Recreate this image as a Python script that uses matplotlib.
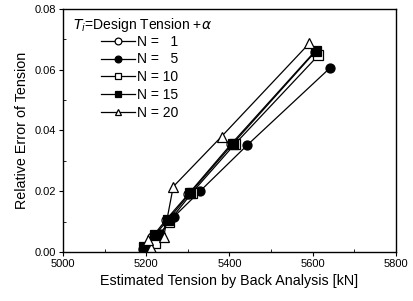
import matplotlib
matplotlib.use("Agg")
import matplotlib.pyplot as plt
from matplotlib.ticker import MultipleLocator

plt.rcParams['font.family'] = ['Liberation Sans', 'DejaVu Sans']

labels = ["N =   1", "N =   5", "N = 10", "N = 15", "N = 20"]
x_n1 = [5192, 5215, 5247, 5301, 5404, 5605]
y_n1 = [0.001, 0.005, 0.0105, 0.019, 0.0355, 0.066]
x_n5 = [5197, 5232, 5266, 5330, 5443, 5641]
y_n5 = [0.0015, 0.006, 0.0115, 0.0201, 0.0352, 0.0605]
x_n10 = [5200, 5222, 5255, 5310, 5413, 5614]
y_n10 = [0.001, 0.003, 0.010, 0.0195, 0.0355, 0.0648]
x_n15 = [5195, 5220, 5252, 5305, 5408, 5608]
y_n15 = [0.0015, 0.0055, 0.0105, 0.0193, 0.0356, 0.0662]
x_n20 = [5212, 5204, 5242, 5265, 5381, 5592]
y_n20 = [0.0012, 0.004, 0.005, 0.0215, 0.038, 0.0687]
xticks = [5000, 5200, 5400, 5600, 5800]
yticks = [0.00, 0.02, 0.04, 0.06, 0.08]

fig = plt.figure(figsize=(4.13, 3.01), dpi=100)
ax = fig.add_axes([0.1525, 0.163, 0.806, 0.807])

series = [
    (x_n1, y_n1, 'o', 'white'),
    (x_n5, y_n5, 'o', 'black'),
    (x_n10, y_n10, 's', 'white'),
    (x_n15, y_n15, 's', 'black'),
    (x_n20, y_n20, '^', 'white'),
]
for (xs, ys, m, fc), lab in zip(series, labels):
    ax.plot(xs, ys, color='black', lw=0.9, marker=m, ms=6.5,
            mfc=fc, mec='black', mew=0.9, label=lab)

ax.set_xlim(5000, 5800)
ax.set_ylim(0, 0.08)
ax.set_xticks(xticks)
ax.set_xticklabels([str(v) for v in xticks])
ax.set_yticks(yticks)
ax.set_yticklabels([f"{v:.2f}" for v in yticks])
ax.xaxis.set_minor_locator(MultipleLocator(100))
ax.yaxis.set_minor_locator(MultipleLocator(0.01))
ax.tick_params(which='major', direction='out', length=3, width=0.8, labelsize=8,
               top=False, right=False, pad=2)
ax.tick_params(which='minor', direction='in', length=2, width=0.6)
for s in ax.spines.values():
    s.set_linewidth(1.0)

ax.set_xlabel("Estimated Tension by Back Analysis [kN]", fontsize=10.3, labelpad=4)
ax.set_ylabel("Relative Error of Tension", fontsize=10.3, labelpad=4)

ax.text(0.03, 0.934, r"$T_i$=Design Tension +$\alpha$", transform=ax.transAxes,
        fontsize=10, va='center', ha='left')

leg = ax.legend(loc='upper left', bbox_to_anchor=(0.115, 0.895), frameon=False,
                fontsize=10, handlelength=2.4, handletextpad=0.2, markerscale=0.75,
                labelspacing=0.28, borderaxespad=0, borderpad=0)

fig.savefig("out.png", dpi=100)
